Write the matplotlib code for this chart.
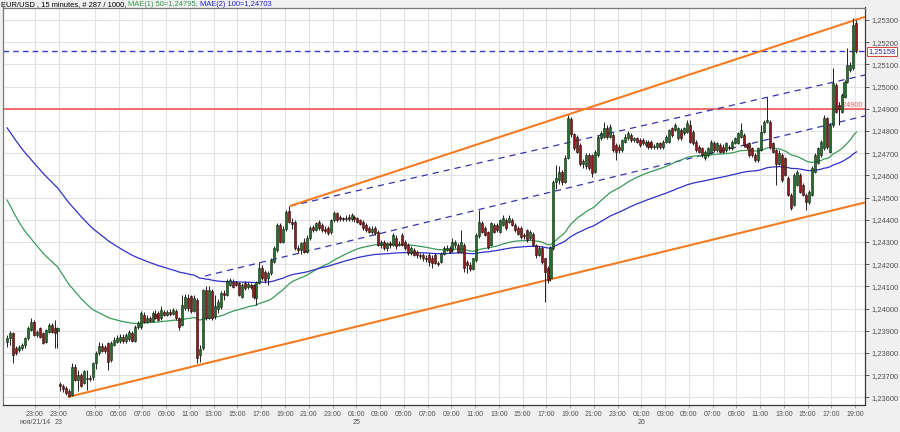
import matplotlib
matplotlib.use("Agg")
import matplotlib.pyplot as plt
import numpy as np
from matplotlib.patches import Rectangle
from matplotlib.collections import LineCollection, PatchCollection
from matplotlib.transforms import blended_transform_factory

plt.rcParams['font.family'] = ['Liberation Sans', 'DejaVu Sans']

# ---------------- data (prices in points of 1e-5) ----------------
opens_pt = [
    123851,123866,123889,123821,123812,123822,123837,123866,123904,123941,
    123881,123911,123889,123851,123896,123926,123911,123901,123660,123650,
    123642,123630,123612,123739,123680,123700,123665,123685,123687,123690,
    123754,123799,123832,123829,123844,123769,123837,123850,123855,123874,
    123852,123862,123889,123855,123919,123919,123971,123941,123956,123945,
    123975,123979,123956,123985,123972,123985,123975,123990,123958,123926,
    124002,124047,124055,123990,124040,123790,123821,124084,123960,124080,
    123965,124000,124009,124069,124062,124107,124122,124118,124114,124054,
    124114,124099,124107,124107,124047,124114,124182,124167,124137,124159,
    124212,124264,124377,124302,124360,124440,124392,124390,124272,124264,
    124300,124257,124320,124369,124355,124392,124377,124360,124362,124345,
    124399,124429,124414,124407,124402,124414,124402,124414,124407,124399,
    124392,124377,124362,124347,124362,124347,124287,124302,124272,124294,
    124287,124317,124285,124332,124302,124287,124249,124264,124257,124242,
    124242,124230,124241,124226,124241,124206,124211,124248,124266,124271,
    124264,124286,124286,124256,124286,124211,124196,124180,124220,124325,
    124384,124361,124346,124286,124376,124376,124346,124376,124399,124391,
    124399,124376,124361,124361,124331,124353,124316,124338,124286,124241,
    124271,124226,124181,124136,124271,124572,124580,124617,124570,124680,
    124855,124785,124774,124737,124650,124640,124692,124692,124617,124692,
    124767,124774,124812,124774,124782,124737,124729,124714,124752,124767,
    124782,124759,124767,124759,124759,124737,124752,124752,124729,124729,
    124744,124729,124752,124752,124812,124804,124767,124804,124789,124797,
    124827,124797,124752,124729,124722,124677,124692,124700,124744,124715,
    124737,124730,124714,124730,124722,124744,124744,124774,124782,124737,
    124744,124722,124692,124670,124715,124797,124842,124842,124744,124714,
    124650,124692,124677,124587,124512,124467,124557,124602,124557,124512,
    124482,124512,124617,124655,124692,124722,124857,124707,124827,125007,
    124917,124887,124955,125022,125075,125082,125285,
]
highs_pt = [
    123881,123900,123895,123830,123835,123845,123872,123920,123956,123950,
    123905,123915,123895,123910,123935,123935,123949,123918,123670,123660,
    123650,123640,123754,123750,123725,123710,123725,123724,123700,123760,
    123810,123850,123845,123838,123850,123855,123870,123880,123885,123885,
    123890,123905,123900,123925,123945,123990,123985,123970,123968,123990,
    123992,123990,124010,123995,123995,124000,124005,124000,123962,124062,
    124065,124065,124062,124062,124050,123835,124090,124100,124100,124090,
    124062,124045,124080,124085,124135,124140,124135,124125,124120,124115,
    124125,124120,124115,124112,124125,124212,124195,124175,124170,124230,
    124280,124385,124385,124370,124445,124462,124410,124400,124287,124300,
    124317,124332,124370,124377,124392,124400,124385,124370,124372,124405,
    124440,124437,124422,124414,124420,124425,124430,124422,124414,124405,
    124400,124385,124370,124370,124370,124354,124310,124310,124300,124305,
    124340,124330,124305,124340,124310,124295,124280,124272,124265,124250,
    124250,124240,124250,124240,124250,124215,124255,124280,124285,124280,
    124316,124310,124295,124356,124295,124220,124211,124230,124340,124444,
    124395,124370,124350,124390,124385,124385,124405,124420,124410,124421,
    124410,124385,124370,124370,124340,124360,124355,124345,124290,124280,
    124280,124230,124190,124280,124580,124647,124640,124625,124690,124872,
    124865,124790,124780,124745,124675,124700,124700,124695,124715,124780,
    124800,124840,124825,124830,124790,124745,124740,124765,124785,124800,
    124790,124775,124775,124767,124767,124760,124760,124760,124740,124750,
    124752,124760,124780,124810,124820,124835,124820,124812,124820,124850,
    124850,124805,124760,124735,124730,124715,124730,124760,124755,124750,
    124745,124740,124750,124737,124760,124775,124795,124835,124790,124745,
    124750,124730,124700,124730,124827,124850,124955,124850,124750,124720,
    124715,124700,124685,124595,124520,124610,124625,124610,124565,124520,
    124535,124640,124700,124730,124760,124872,124865,124835,125082,125015,
    124930,124970,125030,125172,125110,125307,125300,
]
lows_pt = [
    123829,123835,123754,123790,123805,123815,123822,123860,123900,123875,
    123870,123868,123840,123845,123890,123890,123822,123822,123630,123625,
    123610,123603,123605,123672,123627,123645,123660,123634,123676,123680,
    123730,123790,123805,123800,123724,123760,123830,123845,123845,123845,
    123845,123855,123848,123850,123910,123910,123935,123935,123938,123940,
    123955,123945,123950,123965,123965,123968,123970,123950,123904,123920,
    123995,123990,123980,123985,123754,123760,123815,123950,123955,123950,
    123955,123980,124000,124040,124055,124100,124095,124100,124055,124047,
    124085,124090,124090,124045,124017,124110,124130,124115,124107,124150,
    124205,124255,124295,124295,124350,124385,124360,124265,124250,124245,
    124249,124250,124310,124345,124350,124355,124347,124340,124330,124335,
    124392,124392,124395,124395,124395,124395,124395,124392,124385,124375,
    124355,124345,124340,124335,124330,124280,124275,124265,124260,124275,
    124280,124270,124280,124280,124265,124240,124240,124235,124230,124225,
    124215,124212,124190,124181,124200,124190,124205,124240,124260,124250,
    124255,124275,124250,124250,124166,124160,124170,124175,124210,124320,
    124340,124325,124270,124280,124340,124345,124340,124370,124355,124385,
    124370,124345,124330,124315,124315,124300,124310,124280,124230,124235,
    124200,124030,124115,124125,124265,124540,124560,124556,124565,124675,
    124775,124715,124700,124640,124635,124630,124625,124594,124610,124685,
    124760,124770,124765,124770,124705,124670,124700,124705,124745,124760,
    124750,124750,124745,124730,124735,124730,124720,124720,124720,124720,
    124720,124720,124745,124745,124775,124800,124760,124760,124780,124790,
    124745,124735,124705,124700,124685,124670,124685,124695,124705,124705,
    124700,124700,124705,124715,124715,124740,124740,124770,124730,124720,
    124685,124685,124660,124660,124710,124790,124835,124720,124700,124557,
    124645,124570,124595,124505,124444,124460,124550,124520,124505,124444,
    124470,124505,124610,124650,124685,124715,124720,124700,124820,124880,
    124827,124880,124950,125015,125065,125075,125150,
]
closes_pt = [
    123866,123892,123791,123799,123829,123837,123866,123911,123941,123881,
    123896,123874,123847,123904,123926,123896,123892,123911,123650,123640,
    123619,123607,123739,123680,123700,123650,123717,123688,123684,123754,
    123799,123830,123811,123807,123761,123844,123859,123866,123870,123852,
    123880,123896,123852,123919,123934,123979,123941,123956,123945,123979,
    123960,123950,123994,123972,123985,123975,123994,123958,123919,124017,
    124054,124002,123990,124047,123776,123820,124084,123960,124084,123960,
    124010,124032,124069,124060,124124,124129,124099,124107,124062,124107,
    124092,124110,124099,124054,124119,124182,124137,124129,124159,124219,
    124272,124377,124302,124360,124437,124392,124380,124272,124265,124294,
    124257,124320,124362,124354,124384,124362,124354,124350,124339,124399,
    124429,124399,124405,124402,124410,124402,124422,124402,124392,124380,
    124362,124354,124347,124360,124339,124287,124302,124272,124294,124285,
    124332,124280,124290,124287,124272,124249,124272,124242,124240,124235,
    124227,124222,124211,124206,124206,124200,124248,124271,124271,124256,
    124301,124301,124256,124301,124181,124196,124180,124226,124331,124391,
    124346,124331,124279,124384,124346,124353,124399,124406,124361,124406,
    124376,124353,124338,124323,124325,124309,124346,124286,124241,124271,
    124211,124166,124130,124271,124572,124587,124617,124570,124680,124860,
    124785,124725,124707,124650,124665,124692,124635,124610,124707,124774,
    124789,124812,124774,124819,124714,124707,124714,124759,124774,124789,
    124759,124767,124752,124737,124744,124752,124729,124729,124733,124744,
    124729,124752,124774,124804,124782,124827,124812,124767,124812,124834,
    124752,124744,124714,124707,124692,124707,124722,124750,124715,124745,
    124707,124707,124744,124722,124752,124767,124789,124804,124737,124729,
    124692,124692,124670,124722,124797,124842,124850,124730,124707,124650,
    124700,124580,124602,124512,124452,124602,124617,124527,124512,124482,
    124527,124632,124692,124722,124752,124857,124730,124827,125015,124887,
    124900,124962,125022,125097,125097,125277,125158,
]

# moving averages (exponential), seeded with the values read at the first bar
ema_periods = [50, 100]
ema_seeds = [1.24489, 1.24814]
ema_colors = ['#3a9a5a', '#3030c8']

# drawn lines: (bar, price) end points
upper_line_x, upper_line_y = [95.3, 288.9], [1.24462, 1.25314]
lower_line_x, lower_line_y = [20.5, 288.9], [1.23602, 1.24478]
dash_a_x, dash_a_y = [66.7, 288.9], [1.24147, 1.24868]
dash_b_x, dash_b_y = [95.3, 288.9], [1.24462, 1.25052]
level_red = 1.24900
level_last = 1.25158

# axis labels
y_ticks = [1.2360, 1.2370, 1.2380, 1.2390, 1.2400, 1.2410, 1.2420, 1.2430, 1.2440,
           1.2450, 1.2460, 1.2470, 1.2480, 1.2490, 1.2500, 1.2510, 1.2520, 1.2530]
x_tick_pos = [9.4, 17.5] + list(29.6 + 8 * np.arange(33))
x_tick_labels = ['23:00', '23:00',
                 '03:00', '05:00', '07:00', '09:00', '11:00', '13:00', '15:00', '17:00', '19:00', '21:00', '23:00', '01:00',
                 '03:00', '05:00', '07:00', '09:00', '11:00', '13:00', '15:00', '17:00', '19:00', '21:00', '23:00', '01:00',
                 '03:00', '05:00', '07:00', '09:00', '11:00', '13:00', '15:00', '17:00', '19:00']
day_label_pos = [9.4, 17.5, 117.6, 213.6]
day_labels = ['ноя/21/14', '23', '25', '26']
title_parts = [("EUR/USD , 15 minutes, # 287 / 1000, ", '#000000'),
               ("MAE(1) 50=1,24795, ", '#2e9a4e'),
               ("MAE(2) 100=1,24703", '#2020c0')]

# ---------------- derived ----------------
SCALE = 1e5
opens = np.array(opens_pt) / SCALE
highs = np.array(highs_pt) / SCALE
lows = np.array(lows_pt) / SCALE
closes = np.array(closes_pt) / SCALE
n = len(closes)
idx = np.arange(n)


def ema(values, period, seed):
    a = 2.0 / (period + 1)
    out = np.empty(len(values))
    out[0] = seed
    for k in range(1, len(values)):
        out[k] = out[k - 1] + a * (values[k] - out[k - 1])
    return out


# ---------------- figure ----------------
W, H = 900, 432
fig = plt.figure(figsize=(W / 100, H / 100), dpi=100, facecolor='#f0f0f0')
ax = fig.add_axes([2.7 / W, 27 / H, (865 - 2.7) / W, (405 - 7.5) / H])
ax.set_facecolor('white')
ax.set_xlim(-1.45, 288.9)
ax.set_ylim(1.23566, 1.25356)

# grid
for yv in y_ticks:
    ax.axhline(yv, color='#e2e2e2', lw=0.8, zorder=0)
for xv in x_tick_pos:
    ax.axvline(xv, color='#e2e2e2', lw=0.8, zorder=0)

# horizontal levels
ax.axhline(level_red, color='#f06262', lw=1.3, zorder=2)
ax.axhline(level_last, color='#3535d8', lw=1.0, dashes=(4, 3), zorder=2)
ax.text(288.3, level_red + 0.00002, '1,24900', color='#e85a5a', fontsize=5.2,
        ha='right', va='bottom', zorder=2.2)

# channel lines
ax.plot(dash_a_x, dash_a_y, color='#3434b0', lw=0.9, dashes=(5, 4), zorder=2)
ax.plot(dash_b_x, dash_b_y, color='#3434b0', lw=0.9, dashes=(5, 4), zorder=2)
ax.plot(upper_line_x, upper_line_y, color='#f47b20', lw=1.5, zorder=2.6, solid_capstyle='butt')
ax.plot(lower_line_x, lower_line_y, color='#f47b20', lw=1.5, zorder=2.6, solid_capstyle='butt')

# moving averages
for p, s, c in zip(ema_periods, ema_seeds, ema_colors):
    ax.plot(idx, ema(closes, p, s), color=c, lw=0.9, zorder=2.4)

# candles
wicks = [[(i, lows[i]), (i, highs[i])] for i in range(n)]
ax.add_collection(LineCollection(wicks, colors='#202020', linewidths=0.7, zorder=3))
bw = 0.68
rects_up, rects_dn = [], []
for i in range(n):
    lo, hi = min(opens[i], closes[i]), max(opens[i], closes[i])
    h = max(hi - lo, 0.000012)
    r = Rectangle((i - bw / 2, lo), bw, h)
    (rects_up if closes[i] >= opens[i] else rects_dn).append(r)
ax.add_collection(PatchCollection(rects_up, facecolor='#23702a', edgecolor='#0b1f0b', linewidth=0.4, zorder=3.2))
ax.add_collection(PatchCollection(rects_dn, facecolor='#8e1b1b', edgecolor='#220606', linewidth=0.4, zorder=3.2))

# axes styling
for sp in ['left', 'top']:
    ax.spines[sp].set_color('#7a7a7a')
    ax.spines[sp].set_linewidth(0.9)
for sp in ['right', 'bottom']:
    ax.spines[sp].set_color('#3a3a3a')
    ax.spines[sp].set_linewidth(0.9)

ax.yaxis.tick_right()
ax.set_yticks(y_ticks)
ax.set_yticklabels([f"{v:.5f}".replace('.', ',') for v in y_ticks])
ax.tick_params(axis='y', direction='out', length=3, width=0.7, color='#555555',
               labelsize=5.4, labelcolor='#505050', pad=1.5)
ax.set_xticks(x_tick_pos)
ax.set_xticklabels(x_tick_labels)
ax.tick_params(axis='x', direction='out', length=2, width=0.6, color='#999999',
               labelsize=5.0, labelcolor='#505050', pad=2.5)

trans = blended_transform_factory(ax.transData, fig.transFigure)
for xp, lab in zip(day_label_pos, day_labels):
    ax.text(xp, 1 - 422 / H, lab, transform=trans, fontsize=5.0, color='#505050',
            ha='center', va='center', clip_on=False)

# last price box
ax.text(1.004, level_last, '1,25158', transform=blended_transform_factory(ax.transAxes, ax.transData),
        fontsize=5.4, color='#2828b0', ha='left', va='center', clip_on=False,
        bbox=dict(boxstyle='square,pad=0.15', facecolor='white', edgecolor='#d04040', linewidth=0.7))

# title in three colours
renderer = fig.canvas.get_renderer()
x0 = 1.0 / W
for s, c in title_parts:
    t = fig.text(x0, 1 - 4.3 / H, s, color=c, fontsize=5.4, ha='left', va='center')
    bb = t.get_window_extent(renderer)
    x0 = bb.x1 / fig.bbox.width

fig.savefig('out.png', dpi=100, facecolor=fig.get_facecolor())
